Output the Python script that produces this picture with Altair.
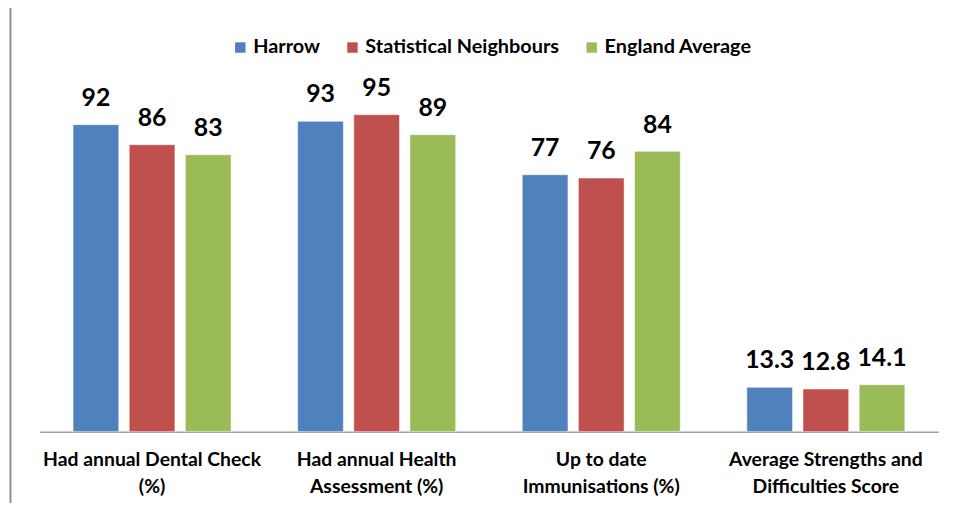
import altair as alt
import pandas as pd

categories = ["Had annual Dental Check|(%)", "Had annual Health|Assessment (%)",
              "Up to date|Immunisations  (%)", "Average Strengths and|Difficulties Score"]
series = ["Harrow", "Statistical Neighbours", "England Average"]
harrow = [92, 93, 77, 13.3]
stat_neigh = [86, 95, 76, 12.8]
england = [83, 89, 84, 14.1]
colors = ["#4F81BD", "#C0504D", "#9BBB59"]

rows = []
for s, vals in zip(series, [harrow, stat_neigh, england]):
    for c, v in zip(categories, vals):
        rows.append({"category": c, "series": s, "value": v, "label": f"{v:g}"})
df = pd.DataFrame(rows)

FONT = "Lato"

x = alt.X("category:N", sort=categories, title=None,
          scale=alt.Scale(paddingInner=0, paddingOuter=0),
          axis=alt.Axis(labelExpr="split(datum.label, '|')", labelAngle=0,
                        labelFont=FONT, labelFontWeight="bold", labelFontSize=19.5,
                        labelColor="#000000", labelPadding=19, labelLineHeight=27,
                        labelLimit=0,
                        ticks=False, domainColor="#A0A0A0", domainWidth=1.5,
                        grid=False))
xo = alt.XOffset("series:N", sort=series,
                 scale=alt.Scale(paddingInner=0.186, paddingOuter=0.593))
y = alt.Y("value:Q", scale=alt.Scale(domain=[0, 105]), axis=None)

base = alt.Chart(df)
bars = base.mark_bar(stroke="white", strokeOpacity=0.5, strokeWidth=1).encode(
    x=x, xOffset=xo, y=y,
    color=alt.Color("series:N", sort=series,
                    scale=alt.Scale(domain=series, range=colors),
                    legend=alt.Legend(title=None, orient="none", direction="horizontal",
                                      legendX=192, legendY=-44,
                                      symbolType="square", symbolSize=110,
                                      symbolStrokeWidth=0, labelLimit=0,
                                      labelFont=FONT, labelFontWeight="bold",
                                      labelFontSize=20, labelColor="#000000",
                                      labelOffset=3, columnPadding=22)),
)
texts = base.mark_text(baseline="bottom", dy=-14, font=FONT, fontWeight="bold",
                       fontSize=25, color="#000000").encode(
    x=x, xOffset=xo, y=y, text="label:N")

border = alt.Chart(pd.DataFrame({"v": [0]})).mark_rule(color="#909090", strokeWidth=2).encode(
    x=alt.value(-29.5), y=alt.value(-80), y2=alt.value(500))

chart = alt.layer(bars, texts, border).properties(
    width=905, height=353,
    autosize=alt.AutoSizeParams(type="none"),
    padding={"left": 32, "top": 72, "right": 20, "bottom": 70},
).configure(background="white").configure_view(strokeWidth=0, stroke="transparent")

chart.save("out.html", embed_options={"renderer": "svg", "actions": False})
